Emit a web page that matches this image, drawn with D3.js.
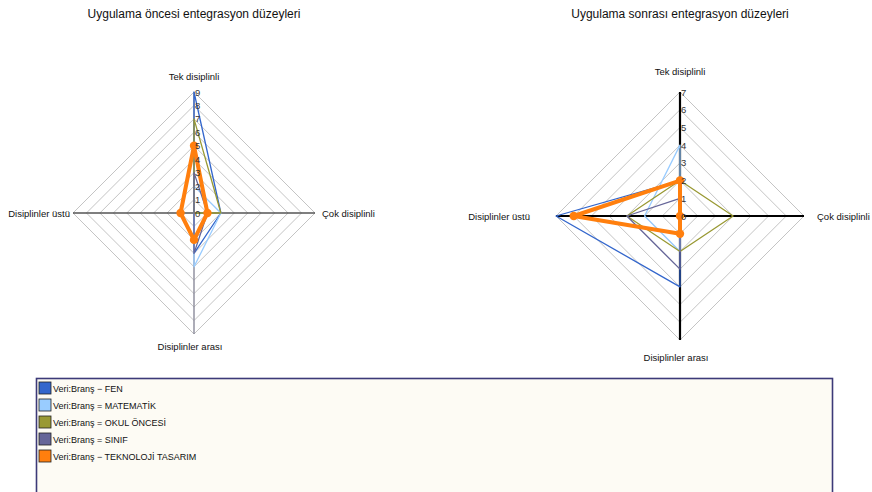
<!DOCTYPE html>
<html>
<head>
<meta charset="utf-8">
<script src="https://cdn.jsdelivr.net/npm/d3@7"></script>
<style>
  html, body { margin: 0; padding: 0; background: #fff; }
  svg { display: block; font-family: "Liberation Sans", Arial, sans-serif; }
</style>
</head>
<body>
<svg id="chart" width="872" height="492"></svg>
<script>
// Axes of each radar, clockwise from the top
const axes = ["Tek disiplinli", "Çok disiplinli", "Disiplinler arası", "Disiplinler üstü"];

const branches = ["FEN", "MATEMATİK", "OKUL ÖNCESİ", "SINIF", "TEKNOLOJİ TASARIM"];
const colors = ["#3366cc", "#99ccff", "#999933", "#666699", "#ff7f0e"];

// Values per branch, in axis order [top, right, bottom, left]
const beforeValues = [
  [9, 2, 3, 0],
  [2, 2, 4, 0],
  [7, 2, 0, 0],
  [3, 1, 3, 0],
  [5, 1, 2, 1]
];
const afterValues = [
  [2, 0, 4, 7],
  [4, 0, 2, 2],
  [2, 3, 2, 3],
  [1, 0, 3, 3],
  [2, 0, 1, 6]
];

const beforeTicks = [0, 1, 2, 3, 4, 5, 6, 7, 8, 9];
const afterTicks = [0, 1, 2, 3, 4, 5, 6, 7];

const svg = d3.select("#chart");

function radar(cfg) {
  const g = svg.append("g");
  const r = d3.scaleLinear().domain([0, d3.max(cfg.ticks)]).range([0, cfg.radius]);
  const angle = i => -Math.PI / 2 + i * Math.PI / 2;
  const pt = (v, i) => [cfg.cx + r(v) * Math.cos(angle(i)), cfg.cy + r(v) * Math.sin(angle(i))];

  // title
  g.append("text")
    .attr("x", cfg.cx).attr("y", 18)
    .attr("text-anchor", "middle")
    .attr("font-size", 12).attr("fill", "#111")
    .text(cfg.title);

  // concentric diamond grid
  const line = d3.line();
  cfg.ticks.filter(t => t > 0).forEach(t => {
    g.append("path")
      .attr("d", line(axes.map((a, i) => pt(t, i))) + "Z")
      .attr("fill", "none").attr("stroke", "#c4c4c4").attr("stroke-width", 1);
  });

  // axis spokes: vertical, then horizontal
  const maxV = d3.max(cfg.ticks);
  [[0, 2, cfg.vAxisColor], [1, 3, cfg.hAxisColor]].forEach(([a, b, c]) => {
    const p1 = pt(maxV, a), p2 = pt(maxV, b);
    g.append("line")
      .attr("x1", p1[0]).attr("y1", p1[1]).attr("x2", p2[0]).attr("y2", p2[1])
      .attr("stroke", c).attr("stroke-width", cfg.axisWidth);
  });

  // series
  cfg.values.forEach((vals, s) => {
    const pts = vals.map((v, i) => pt(v, i));
    const isMain = s === cfg.values.length - 1;
    g.append("path")
      .attr("d", line(pts) + "Z")
      .attr("fill", "none")
      .attr("stroke", colors[s])
      .attr("stroke-width", isMain ? 4 : 1.3)
      .attr("stroke-linejoin", "round");
    if (isMain) {
      g.selectAll(null).data(pts).enter().append("circle")
        .attr("cx", d => d[0]).attr("cy", d => d[1]).attr("r", 4.2)
        .attr("fill", colors[s]);
    }
  });

  // tick labels along the top spoke
  g.selectAll(null).data(cfg.ticks).enter().append("text")
    .attr("x", cfg.cx + 1)
    .attr("y", d => cfg.cy - r(d) + 3.5)
    .attr("font-size", 9.5).attr("fill", "#333")
    .text(d => d);

  // axis labels (top, right, bottom, left)
  const lbl = cfg.labels;
  axes.forEach((a, i) => {
    g.append("text")
      .attr("x", lbl[i][0]).attr("y", lbl[i][1])
      .attr("text-anchor", lbl[i][2])
      .attr("font-size", 9.5).attr("fill", "#111")
      .text(a);
  });
}

radar({
  title: "Uygulama öncesi entegrasyon düzeyleri",
  cx: 194, cy: 213, radius: 121,
  ticks: beforeTicks, values: beforeValues,
  vAxisColor: "#8a8a9a", hAxisColor: "#555", axisWidth: 1.4,
  labels: [[194, 80, "middle"], [322, 217, "start"], [190, 350, "middle"], [70, 217, "end"]]
});

radar({
  title: "Uygulama sonrası entegrasyon düzeyleri",
  cx: 680, cy: 216, radius: 124,
  ticks: afterTicks, values: afterValues,
  vAxisColor: "#000", hAxisColor: "#000", axisWidth: 2.2,
  labels: [[680, 75, "middle"], [817, 220, "start"], [676, 361, "middle"], [530, 220, "end"]]
});

// legend
const legend = svg.append("g");
legend.append("rect")
  .attr("x", 36.5).attr("y", 378.5).attr("width", 796).attr("height", 130)
  .attr("fill", "#fdfbf4").attr("stroke", "#3c3a78").attr("stroke-width", 1.6);

const items = legend.selectAll(null).data(branches).enter().append("g")
  .attr("transform", (d, i) => `translate(39,${382 + i * 17})`);
items.append("rect")
  .attr("width", 12).attr("height", 12)
  .attr("fill", (d, i) => colors[i])
  .attr("stroke", "#222").attr("stroke-width", 0.8);
items.append("text")
  .attr("x", 14).attr("y", 9.5)
  .attr("font-size", 9).attr("fill", "#111")
  .text((d, i) => (i === 0 || i === 4 ? "Veri:Branş \u2212 " : "Veri:Branş = ") + d);
</script>
</body>
</html>
